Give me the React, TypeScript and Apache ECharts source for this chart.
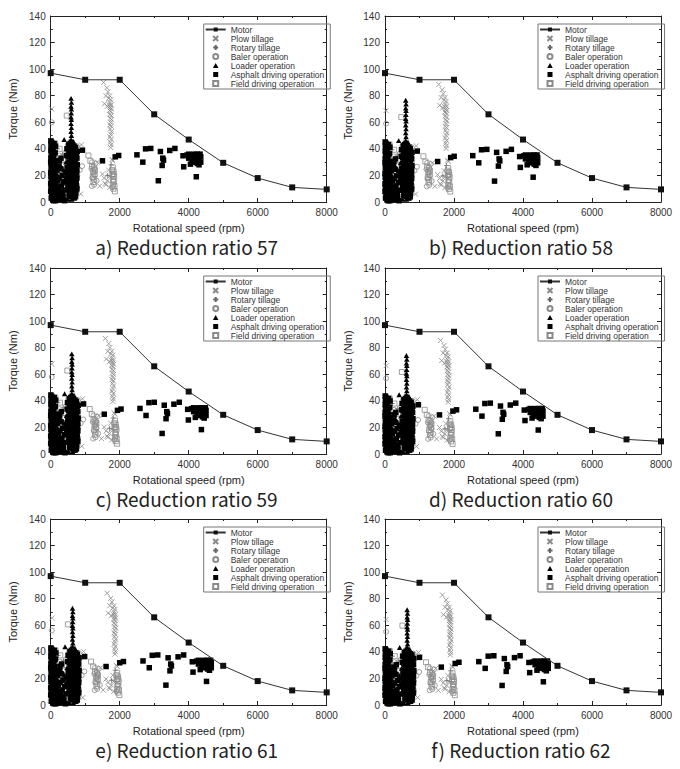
import React, { useEffect, useRef } from "react";
import * as echarts from "echarts";

const ratios = [57, 58, 59, 60, 61, 62];
const captions = [
  "a) Reduction ratio 57",
  "b) Reduction ratio 58",
  "c) Reduction ratio 59",
  "d) Reduction ratio 60",
  "e) Reduction ratio 61",
  "f) Reduction ratio 62",
];
const baseRatio = 57;

const motorSpeed = [0, 1000, 2000, 3000, 4000, 5000, 6000, 7000, 8000];
const motorTorque = [97, 92, 92, 66, 47, 29.5, 18, 11, 9.5];

// Operating points read at reduction ratio 57: [speed rpm, torque Nm]
const plowTillage: number[][] = [
  [1530, 90], [1627, 86], [1660, 83], [1600, 80], [1710, 80], [1680, 78], [1740, 77], [1720, 75],
  [1560, 74], [1700, 73], [1750, 73], [1640, 72], [1730, 71], [1710, 69], [1760, 70], [1740, 68],
  [1720, 66], [1750, 65], [1730, 63], [1760, 62], [1740, 60], [1720, 58], [1750, 57], [1730, 55],
  [1760, 53], [1740, 51], [1720, 49], [1750, 47], [1730, 45], [1750, 43], [1740, 41], [1780, 32],
  [1800, 31], [1650, 16], [1700, 19], [1600, 13], [1420, 12], [1550, 18], [1580, 14], [1500, 21],
  [30, 70], [890, 43], [870, 6], [1350, 30], [1710, 11], [1680, 24],
];
const rotaryTillage: number[][] = [
  [30, 14], [90, 25], [160, 33], [230, 22], [320, 30], [410, 26], [480, 30], [520, 38], [650, 40],
  [700, 36], [730, 30], [680, 22], [720, 15], [640, 12], [760, 8], [560, 28], [600, 26], [250, 12],
  [120, 40], [200, 40], [350, 36], [1650, 20], [1750, 28],
];
const balerOperation: number[][] = [
  [30, 60], [910, 27], [1190, 12], [1210, 18], [1240, 22], [1270, 25], [1300, 29], [1200, 30],
  [1330, 16], [1260, 13], [1280, 20], [1180, 25], [520, 30], [480, 24], [740, 34], [770, 20],
  [1780, 11], [1810, 16], [1790, 20], [100, 30], [250, 35], [420, 37], [760, 42], [840, 24],
];
const loaderOperation: number[][] = [
  [590, 78], [600, 75], [590, 72], [600, 70], [595, 67], [590, 64], [600, 62], [590, 59], [600, 56],
  [590, 53], [600, 50], [590, 47], [600, 44], [390, 47], [610, 2], [560, 41], [640, 39], [620, 36],
  [580, 33], [660, 31], [700, 27], [610, 26], [560, 22], [650, 21], [590, 17], [690, 15], [620, 11],
  [580, 7], [650, 5], [150, 8], [210, 12], [260, 5], [330, 14], [180, 21], [380, 24], [420, 18],
  [300, 27], [480, 12], [100, 4], [60, 17], [30, 24], [440, 30], [350, 3], [500, 2], [120, 12],
];
const asphaltDriving: number[][] = [
  [5, 46], [25, 45], [10, 43], [45, 44], [20, 41], [60, 42], [5, 39], [35, 38], [70, 39], [15, 36],
  [50, 35], [90, 36], [5, 33], [30, 32], [75, 33], [110, 31], [20, 29], [55, 28], [95, 29], [10, 26],
  [40, 25], [80, 24], [120, 26], [25, 22], [65, 21], [105, 22], [5, 19], [45, 18], [85, 17], [130, 19],
  [20, 15], [60, 14], [100, 15], [150, 13], [10, 11], [40, 10], [80, 9], [120, 11], [170, 9], [30, 6],
  [70, 5], [110, 6], [160, 4], [200, 6], [15, 3], [55, 2], [95, 3], [140, 1], [190, 2], [240, 3],
  [280, 5], [320, 2], [360, 4], [400, 1], [230, 10], [270, 8], [310, 12], [350, 7], [210, 16], [260, 18],
  [330, 20], [180, 24], [230, 27], [290, 25], [380, 15], [420, 9], [440, 22], [300, 33], [250, 31], [460, 35],
  [140, 42], [100, 44], [130, 37], [150, 28], [0, 30], [0, 22], [0, 14], [0, 8], [60, 31], [30, 18],
  [115, 8], [75, 12], [45, 7], [90, 1], [25, 10], [130, 15], [190, 11], [240, 7], [300, 4], [160, 18],
  [470, 40], [520, 43], [560, 44], [600, 45], [640, 43], [680, 42], [720, 41], [540, 38], [580, 39], [620, 40],
  [660, 38], [700, 37], [740, 38], [500, 34], [560, 35], [600, 33], [640, 34], [680, 33], [720, 32], [760, 33],
  [530, 30], [570, 29], [610, 30], [650, 28], [690, 29], [730, 27], [480, 26], [550, 25], [590, 24], [630, 25],
  [670, 23], [710, 24], [750, 22], [510, 20], [560, 19], [600, 20], [640, 18], [680, 19], [720, 17], [760, 18],
  [540, 14], [580, 15], [620, 13], [660, 14], [700, 12], [740, 13], [500, 10], [570, 9], [610, 10], [650, 8],
  [690, 9], [730, 7], [530, 5], [600, 4], [640, 5], [680, 3], [720, 4],
  [620, 44], [660, 41], [700, 40], [740, 36], [770, 28], [770, 38], [520, 24], [480, 18], [500, 14], [540, 10],
  [560, 7], [620, 7], [700, 6], [760, 10], [560, 12], [600, 17], [640, 22], [680, 26], [720, 21], [700, 31],
  [660, 35], [620, 27], [580, 27], [540, 22], [520, 36], [760, 24], [740, 15], [710, 5], [580, 42], [640, 31],
  [920, 39], [1500, 31], [1870, 34], [1970, 35], [2500, 35.5], [2670, 30], [2750, 40], [2900, 40.3],
  [3120, 16], [3180, 38], [3250, 33], [3270, 31.5], [3230, 27.5], [3450, 38.8], [3600, 40.3], [3835, 34.8],
  [3855, 26.5], [4050, 28.5], [4220, 19], [3950, 35.3], [4000, 36], [4050, 34], [4100, 35], [4150, 36],
  [4200, 33], [4250, 36], [4300, 35], [4350, 34], [4000, 33], [4100, 32], [4150, 30], [4200, 31],
  [4250, 29], [4300, 32], [4350, 30], [4300, 28], [4250, 33], [4180, 34], [4330, 36],
];
const fieldDriving: number[][] = [
  [465, 65], [1094, 35], [1150, 31], [1200, 27], [1230, 23], [1250, 26], [1220, 19], [1270, 21],
  [1260, 17], [1240, 15], [1280, 24], [1800, 26], [1820, 23], [1790, 21], [1840, 19], [1810, 17],
  [1830, 15], [1850, 12], [1820, 10], [1860, 8], [1800, 13], [1780, 24], [1830, 21], [130, 44],
  [90, 38], [180, 32], [60, 23], [700, 40], [740, 35], [560, 32], [530, 20], [760, 12], [500, 42],
  [260, 40], [350, 28], [420, 15], [700, 18],
];

const legendNames = [
  "Motor",
  "Plow tillage",
  "Rotary tillage",
  "Baler operation",
  "Loader operation",
  "Asphalt driving operation",
  "Field driving operation",
];

const SYM_X = "path://M0,0L10,10M10,0L0,10";
const SYM_PLUS = "path://M5,0L5,10M0,5L10,5";
const SYM_CIRCLE = "path://M0,5A5,5,0,1,1,10,5A5,5,0,1,1,0,5Z";
const SYM_TRI = "path://M5,0L10,9L0,9Z";
const SYM_RECT = "path://M0,0L10,0L10,10L0,10Z";

const FONT = "Liberation Sans, Arial, sans-serif";
const colLeft = [50.7, 385];
const rowTop = [16, 268, 519];
const gridW = 276;
const gridH = 186;

function App() {
  const ref = useRef<HTMLDivElement>(null);
  useEffect(() => {
    if (!ref.current) return;
    const chart = echarts.init(ref.current, undefined, { renderer: "svg" });
    const grids: any[] = [];
    const xAxes: any[] = [];
    const yAxes: any[] = [];
    const series: any[] = [];
    const legends: any[] = [];
    const graphics: any[] = [];
    const scaleOf = (pts: number[][], r: number) =>
      pts.map(([s, t]) => [(s * r) / baseRatio, (t * baseRatio) / r]);
    const gray = "#8a8a8a";
    const hollow = { color: "rgba(0,0,0,0)", borderColor: gray, borderWidth: 0.8, opacity: 1 };
    const solid = { color: "#000", borderWidth: 0, opacity: 1 };

    ratios.forEach((r, i) => {
      const left = colLeft[i % 2];
      const top = rowTop[Math.floor(i / 2)];
      grids.push({ left, top, width: gridW, height: gridH, show: false });
      const common = {
        type: "value",
        gridIndex: i,
        splitLine: { show: false },
        axisLine: { show: true, onZero: false, lineStyle: { color: "#222", width: 1 } },
        axisTick: { show: true, inside: true, length: 4, lineStyle: { color: "#222" } },
        minorTick: { show: true, splitNumber: 2, length: 2, lineStyle: { color: "#222" } },
      };
      xAxes.push({
        ...common,
        position: "bottom",
        min: 0,
        max: 8000,
        interval: 2000,
        axisLabel: {
          fontSize: 10,
          color: "#333",
          margin: 5,
          fontFamily: FONT,
          formatter: (v: number) => String(v),
        },
        name: "Rotational speed (rpm)",
        nameLocation: "middle",
        nameGap: 20,
        nameTextStyle: { fontSize: 11, color: "#222", fontFamily: FONT },
      });
      yAxes.push({
        ...common,
        position: "left",
        min: 0,
        max: 140,
        interval: 20,
        axisLabel: {
          fontSize: 10,
          color: "#333",
          margin: 5,
          fontFamily: FONT,
          formatter: (v: number) => String(v),
        },
        name: "Torque (Nm)",
        nameLocation: "middle",
        nameGap: 32,
        nameTextStyle: { fontSize: 11, color: "#222", fontFamily: FONT },
      });
      graphics.push({
        type: "text",
        x: left + gridW / 2 - 2,
        y: top + gridH + 44,
        style: {
          text: captions[i],
          font: '19px "Noto Sans CJK KR", "Noto Sans", sans-serif',
          fill: "#222",
          textAlign: "center",
          textVerticalAlign: "middle",
        },
      });
      legends.push({
        data: legendNames,
        orient: "vertical",
        left: left + 153,
        top: top + 8,
        itemWidth: 20,
        itemHeight: 5,
        itemGap: 0,
        padding: [1, 6, 1, 1],
        borderColor: "#777",
        borderWidth: 1,
        selectedMode: false,
        symbolKeepAspect: true,
        textStyle: { fontSize: 8.5, color: "#333", fontFamily: FONT, lineHeight: 8.6 },
      });
      const sc = (name: string, pts: number[][], symbol: string, size: number, style: any) => ({
        name,
        type: "scatter",
        xAxisIndex: i,
        yAxisIndex: i,
        symbol,
        symbolSize: size,
        symbolKeepAspect: true,
        data: scaleOf(pts, r),
        itemStyle: style,
        silent: true,
      });
      // gray hollow marks first, black marks on top
      series.push(sc("Plow tillage", plowTillage, SYM_X, 5, hollow));
      series.push(
        sc("Rotary tillage", rotaryTillage, SYM_PLUS, 5, {
          color: "rgba(0,0,0,0)",
          borderColor: "#666",
          borderWidth: 0.8,
          opacity: 1,
        })
      );
      series.push(sc("Baler operation", balerOperation, SYM_CIRCLE, 5, hollow));
      series.push(sc("Field driving operation", fieldDriving, SYM_RECT, 5, hollow));
      series.push(sc("Loader operation", loaderOperation, SYM_TRI, 5.5, solid));
      series.push(sc("Asphalt driving operation", asphaltDriving, SYM_RECT, 5.5, solid));
      series.push({
        name: "Motor",
        type: "line",
        xAxisIndex: i,
        yAxisIndex: i,
        data: motorSpeed.map((s, k) => [s, motorTorque[k]]),
        symbol: "rect",
        symbolSize: 6,
        lineStyle: { color: "#333", width: 1 },
        itemStyle: { color: "#111" },
        z: 5,
      });
    });
    // mirror axes for the top and right frame with inward ticks
    ratios.forEach((_, i) => {
      const common = {
        type: "value",
        gridIndex: i,
        splitLine: { show: false },
        axisLabel: { show: false },
        axisLine: { show: true, onZero: false, lineStyle: { color: "#222", width: 1 } },
        axisTick: { show: true, inside: true, length: 4, lineStyle: { color: "#222" } },
        minorTick: { show: true, splitNumber: 2, length: 2, lineStyle: { color: "#222" } },
      };
      xAxes.push({ ...common, position: "top", min: 0, max: 8000, interval: 2000 });
      yAxes.push({ ...common, position: "right", min: 0, max: 140, interval: 20 });
    });

    chart.setOption({
      animation: false,
      backgroundColor: "#fff",
      grid: grids,
      xAxis: xAxes,
      yAxis: yAxes,
      legend: legends,
      series,
      graphic: graphics,
    });
    return () => chart.dispose();
  }, []);
  return (
    <div
      ref={ref}
      style={{ position: "absolute", left: 0, top: 0, width: 680, height: 769, background: "#fff" }}
    />
  );
}

export default App;
